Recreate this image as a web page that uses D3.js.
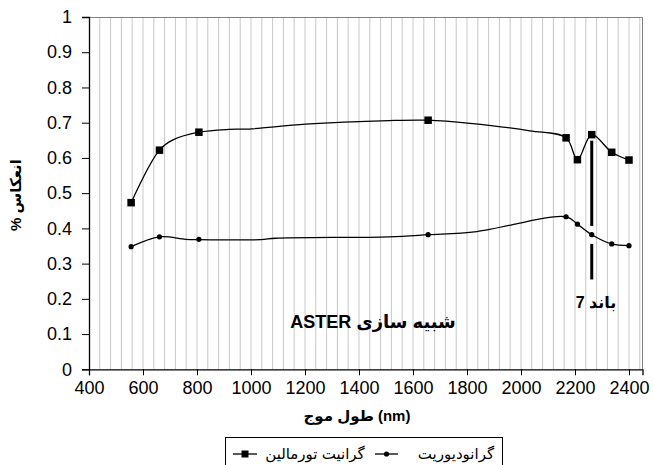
<!DOCTYPE html>
<html>
<head>
<meta charset="utf-8">
<script src="https://cdn.jsdelivr.net/npm/d3@7"></script>
<style>
  html, body { margin: 0; padding: 0; background: #fff; }
  svg { display: block; }
  text { font-family: "Liberation Sans", Arial, "DejaVu Sans", sans-serif; fill: #000; }
</style>
</head>
<body>
<svg id="chart" width="653" height="465"></svg>
<script>
// ---- data ----
const xTicks = [400, 600, 800, 1000, 1200, 1400, 1600, 1800, 2000, 2200, 2400];
const yTicks = [0, 0.1, 0.2, 0.3, 0.4, 0.5, 0.6, 0.7, 0.8, 0.9, 1];
const gridNm = d3.range(440, 2441, 40);

// ASTER band centres (marked points)
const bandNm = [556, 661, 807, 1656, 2167, 2209, 2262, 2336, 2400];
const tourMarkers = [0.473, 0.622, 0.673, 0.707, 0.657, 0.595, 0.666, 0.616, 0.594];
const granoMarkers = [0.348, 0.376, 0.369, 0.382, 0.433, 0.412, 0.382, 0.356, 0.351];

// full curves (including unmarked points)
const tourCurveNm = [556, 661, 711, 807, 918, 993, 1202, 1511, 1656, 1811, 2033, 2167, 2209, 2262, 2336, 2400];
const tourCurve = [0.473, 0.622, 0.651, 0.673, 0.681, 0.682, 0.696, 0.706, 0.707, 0.698, 0.677, 0.657, 0.595, 0.666, 0.616, 0.594];
const granoCurveNm = [556, 661, 758, 807, 1036, 1091, 1511, 1656, 1836, 2167, 2209, 2262, 2336, 2400];
const granoCurve = [0.348, 0.376, 0.369, 0.368, 0.368, 0.372, 0.376, 0.382, 0.391, 0.433, 0.412, 0.382, 0.356, 0.351];

// band 7 indicator
const band7Nm = 2262;
const band7Segments = [[0.649, 0.407], [0.356, 0.255]];

const seriesNames = ["گرانیت تورمالین", "گرانودیوریت"];
const xTitle = "طول موج (nm)";
const yTitle = "انعکاس %";
const noteText = "شبیه سازی ASTER";
const bandText = "باند 7";

// ---- layout ----
const svg = d3.select("#chart");
const pL = 89, pR = 642.5, pT = 17, pB = 369.3;
const x = d3.scaleLinear().domain([400, 2450]).range([pL, pR]);
const y = d3.scaleLinear().domain([0, 1]).range([pB, pT]);

// vertical gridlines
svg.append("g").selectAll("line").data(gridNm).join("line")
  .attr("x1", d => x(d)).attr("x2", d => x(d))
  .attr("y1", pT).attr("y2", pB)
  .attr("stroke", "#c8c8c8").attr("stroke-width", 1);

// plot border (top & right)
svg.append("path")
  .attr("d", `M${pL},${pT + 0.5}H${pR}V${pB}`)
  .attr("fill", "none").attr("stroke", "#808080").attr("stroke-width", 1);

// axes
const xAxis = svg.append("g").attr("transform", `translate(0,${pB})`)
  .call(d3.axisBottom(x).tickValues(xTicks).tickSize(6).tickPadding(6).tickFormat(d3.format("d")));
const yAxis = svg.append("g").attr("transform", `translate(${pL},0)`)
  .call(d3.axisLeft(y).tickValues(yTicks).tickSize(7).tickPadding(10).tickFormat(d => d === 0 || d === 1 ? String(d) : d.toFixed(1)));
[xAxis, yAxis].forEach(g => {
  g.select(".domain").attr("stroke", "#000").attr("stroke-width", 1.3);
  g.selectAll(".tick line").attr("stroke", "#000");
  g.selectAll(".tick text").attr("font-size", 18).attr("fill", "#000")
    .attr("font-family", "'Liberation Sans', Arial, sans-serif");
});

// curves
const line = d3.line().x(d => x(d[0])).y(d => y(d[1])).curve(d3.curveCatmullRom.alpha(0.5));
const tourPts = tourCurveNm.map((n, i) => [n, tourCurve[i]]);
const granoPts = granoCurveNm.map((n, i) => [n, granoCurve[i]]);
svg.append("path").attr("d", line(tourPts)).attr("fill", "none").attr("stroke", "#000").attr("stroke-width", 1.3);
svg.append("path").attr("d", line(granoPts)).attr("fill", "none").attr("stroke", "#000").attr("stroke-width", 1.3);

// markers
svg.append("g").selectAll("rect").data(bandNm.map((n, i) => [n, tourMarkers[i]])).join("rect")
  .attr("x", d => x(d[0]) - 3.75).attr("y", d => y(d[1]) - 3.75)
  .attr("width", 7.5).attr("height", 7.5).attr("fill", "#000");
svg.append("g").selectAll("circle").data(bandNm.map((n, i) => [n, granoMarkers[i]])).join("circle")
  .attr("cx", d => x(d[0])).attr("cy", d => y(d[1])).attr("r", 2.6).attr("fill", "#000");

// band 7 indicator
svg.append("g").selectAll("line").data(band7Segments).join("line")
  .attr("x1", x(band7Nm)).attr("x2", x(band7Nm))
  .attr("y1", d => y(d[0])).attr("y2", d => y(d[1]))
  .attr("stroke", "#000").attr("stroke-width", 3);

svg.append("text").attr("x", 596).attr("y", 308).attr("text-anchor", "middle")
  .attr("direction", "rtl").style("direction", "rtl").style("unicode-bidi", "embed")
  .attr("font-size", 16).attr("font-weight", "bold").text(bandText);

svg.append("text").attr("x", 373).attr("y", 328).attr("text-anchor", "middle")
  .attr("direction", "rtl").style("direction", "rtl").style("unicode-bidi", "embed")
  .attr("font-size", 18).attr("font-weight", "bold").text(noteText);

// axis titles
svg.append("text").attr("x", 357).attr("y", 421).attr("text-anchor", "middle")
  .attr("direction", "ltr").style("direction", "ltr").style("unicode-bidi", "embed")
  .attr("font-size", 15).attr("font-weight", "bold").text(xTitle);
svg.append("text").attr("transform", "translate(21,195) rotate(-90)").attr("text-anchor", "middle")
  .attr("direction", "rtl").style("direction", "rtl").style("unicode-bidi", "embed")
  .attr("font-size", 15).attr("font-weight", "bold").text(yTitle);

// legend
const lg = svg.append("g");
lg.append("rect").attr("x", 225.5).attr("y", 437.5).attr("width", 277).attr("height", 40)
  .attr("fill", "#fff").attr("stroke", "#000").attr("stroke-width", 1);
const legendItems = [
  { name: seriesNames[0], sx: 233, ex: 257, tx: 315, shape: "square" },
  { name: seriesNames[1], sx: 375, ex: 398, tx: 456, shape: "circle" }
];
legendItems.forEach(it => {
  lg.append("line").attr("x1", it.sx).attr("x2", it.ex).attr("y1", 454).attr("y2", 454)
    .attr("stroke", "#000").attr("stroke-width", 1.3);
  const cx = (it.sx + it.ex) / 2;
  if (it.shape === "square") {
    lg.append("rect").attr("x", cx - 3.5).attr("y", 450.5).attr("width", 7).attr("height", 7).attr("fill", "#000");
  } else {
    lg.append("circle").attr("cx", cx).attr("cy", 454).attr("r", 2.6).attr("fill", "#000");
  }
  lg.append("text").attr("x", it.tx).attr("y", 459).attr("text-anchor", "middle")
    .attr("font-size", 15).text(it.name);
});
</script>
</body>
</html>
